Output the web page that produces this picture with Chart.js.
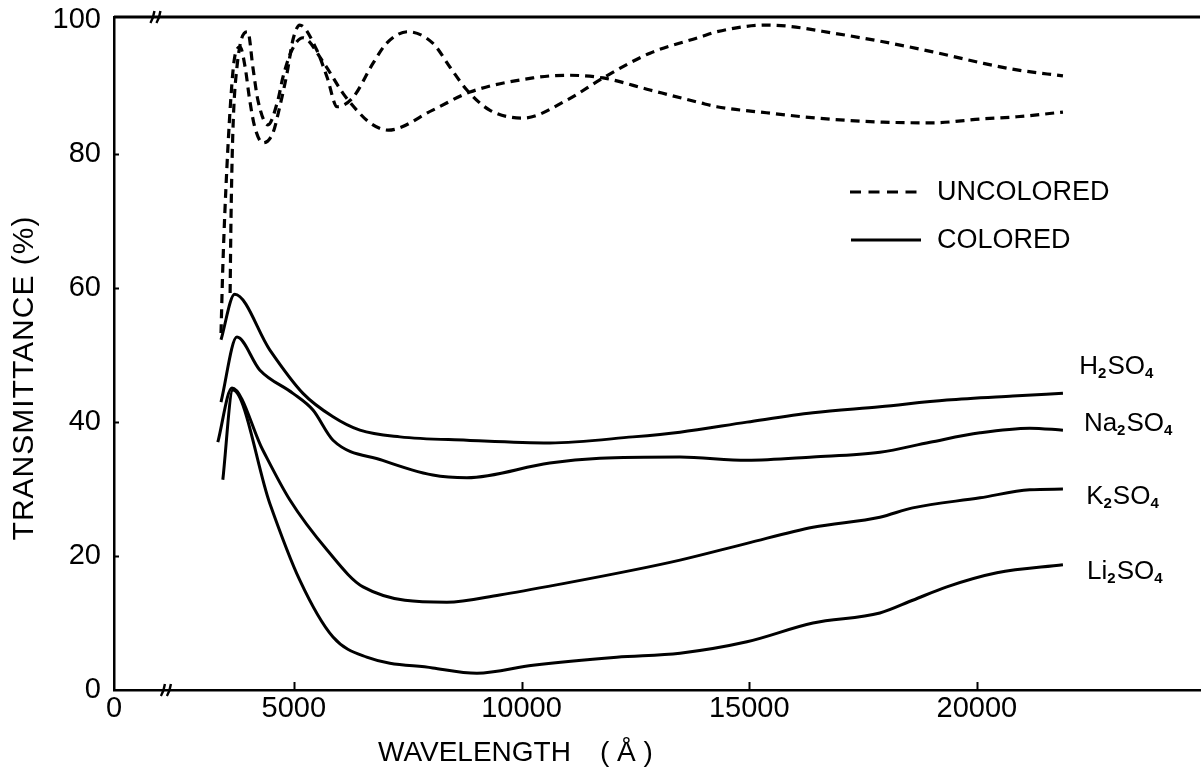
<!DOCTYPE html>
<html>
<head>
<meta charset="utf-8">
<script src="https://cdn.jsdelivr.net/npm/chart.js@4.4.1/dist/chart.umd.min.js"></script>
<style>
  html, body { margin: 0; padding: 0; background: #fff; }
  canvas { display: block; }
</style>
</head>
<body>
<canvas id="chart" width="1202" height="767"></canvas>
<script>
// ---- data ----
// axis: "0" is drawn right after the axis break, at this wavelength position
const X_ZERO_POS = 1050;
const X_MAX = 24900;
const xTickValues = [X_ZERO_POS, 5000, 10000, 15000, 20000];
const xTickLabels = ['0', '5000', '10000', '15000', '20000'];
const yTickValues = [0, 20, 40, 60, 80, 100];

// uncolored film, two samples (dashed)
const uncolAWl = [3400, 3440, 3530, 3640, 3700, 3820, 3930, 4030, 4140, 4320, 4540, 4690, 4850, 4980, 5130, 5500, 5730, 5950, 6300, 6740, 7040, 7500, 8050, 8430, 8800, 9300, 10030, 11000, 11790, 12820, 13920, 14290, 15380, 15890, 16840, 17940, 19030, 20130, 20880, 21890];
const uncolAT  = [53.3, 63.2, 78.1, 90.6, 94.5, 96.0, 93.0, 88.1, 84.1, 81.7, 83.2, 87.1, 92.1, 97.1, 99.3, 95.6, 91.5, 87.1, 88.5, 93.6, 96.6, 98.3, 96.6, 93.0, 89.6, 86.6, 85.4, 88.1, 91.4, 95.1, 97.5, 98.3, 99.3, 99.1, 98.1, 96.8, 95.3, 93.6, 92.6, 91.7];
const uncolBWl = [3600, 3620, 3660, 3750, 3990, 4100, 4210, 4430, 4650, 4760, 4960, 5200, 5640, 6080, 6380, 6670, 7070, 8050, 8870, 10250, 11000, 11790, 12820, 13920, 14290, 15380, 16490, 17940, 19030, 20130, 20880, 21890];
const uncolBT  = [59.3, 70.6, 83.2, 93.0, 98.3, 93.0, 88.1, 84.4, 88.1, 91.5, 95.6, 97.4, 93.8, 89.1, 86.6, 84.7, 83.6, 86.6, 89.3, 91.4, 91.8, 91.4, 89.6, 87.7, 87.1, 86.2, 85.4, 84.8, 84.7, 85.3, 85.6, 86.3];

// colored films (solid)
const h2so4Wl = [3400, 3700, 4470, 5200, 5860, 6450, 7330, 8800, 10620, 12445, 13480, 14950, 16400, 17870, 19340, 20790, 21890];
const h2so4T  = [52.3, 59.1, 50.8, 44.3, 40.8, 38.8, 37.8, 37.3, 36.9, 37.8, 38.5, 40.0, 41.4, 42.3, 43.3, 43.9, 44.3];
const na2so4Wl = [3400, 3750, 4250, 4980, 5420, 5860, 6950, 8050, 8800, 10620, 11720, 13480, 14950, 16400, 17870, 18970, 20070, 21160, 21890];
const na2so4T  = [43.0, 52.7, 47.8, 44.3, 41.8, 37.3, 34.3, 32.1, 31.7, 33.9, 34.6, 34.8, 34.3, 34.8, 35.5, 37.0, 38.4, 39.1, 38.8];
const k2so4Wl = [3330, 3640, 4320, 4910, 5730, 6520, 8360, 9520, 11000, 12445, 13480, 14950, 16400, 17870, 18590, 20070, 21160, 21890];
const k2so4T  = [37.0, 45.1, 35.8, 28.4, 20.9, 15.4, 13.1, 14.2, 16.0, 17.9, 19.4, 21.9, 24.3, 25.8, 27.2, 28.7, 29.9, 30.0];
const li2so4Wl = [3440, 3660, 4470, 5130, 5860, 6600, 8050, 9020, 10250, 12090, 13480, 14950, 16400, 17870, 18590, 19340, 20440, 21890];
const li2so4T  = [31.4, 44.8, 27.9, 16.4, 7.9, 4.9, 3.3, 2.5, 3.7, 4.9, 5.5, 7.2, 10.0, 11.5, 13.4, 15.4, 17.5, 18.7];

const seriesNames = ['H2SO4', 'Na2SO4', 'K2SO4', 'Li2SO4'];
const legendNames = ['UNCOLORED', 'COLORED'];

// ---- helpers ----
const FONT = '"Liberation Sans", Arial, sans-serif';
const pts = (xs, ys) => xs.map((x, i) => ({ x, y: ys[i] }));

function lineSet(xs, ys, dashed) {
    return {
        data: pts(xs, ys),
        borderColor: '#000',
        borderWidth: dashed ? 3.2 : 3,
        borderDash: dashed ? [9, 6] : [],
        cubicInterpolationMode: 'monotone',
        pointRadius: 0,
        fill: false
    };
}

// draws a formula, digits as subscripts
function drawFormula(ctx, text, x, y) {
    let cx = x;
    for (const ch of text) {
        const sub = /[0-9]/.test(ch);
        ctx.font = sub ? 'bold 15px ' + FONT : '26px ' + FONT;
        ctx.fillText(ch, cx, sub ? y + 7 : y);
        cx += ctx.measureText(ch).width + (sub ? 1 : 0);
    }
}

// label anchors (wavelength, transmittance) for the right hand names
const nameAnchors = [[22250, 48.2], [22350, 39.7], [22400, 28.8], [22420, 17.6]];

const decor = {
    id: 'decor',
    afterDraw(chart) {
        const { ctx, chartArea: a, scales: { x, y } } = chart;
        ctx.save();
        ctx.strokeStyle = '#000';
        ctx.fillStyle = '#000';
        ctx.lineCap = 'butt';

        // top frame line
        ctx.lineWidth = 3;
        ctx.beginPath();
        ctx.moveTo(a.left, a.top);
        ctx.lineTo(a.right, a.top);
        ctx.stroke();

        // inside tick marks
        ctx.lineWidth = 2;
        yTickValues.slice(1, -1).forEach(v => {
            const py = Math.round(y.getPixelForValue(v)) + 0.5;
            ctx.beginPath(); ctx.moveTo(a.left, py); ctx.lineTo(a.left + 5, py); ctx.stroke();
        });
        xTickValues.slice(1).forEach(v => {
            const px = Math.round(x.getPixelForValue(v)) + 0.5;
            ctx.beginPath(); ctx.moveTo(px, a.bottom); ctx.lineTo(px, a.bottom - 8); ctx.stroke();
        });

        // axis break marks
        ctx.lineWidth = 2.4;
        [[x.getPixelForValue(1960), a.top], [x.getPixelForValue(2190), a.bottom]].forEach(([bx, by]) => {
            [-3, 3].forEach(dx => {
                ctx.beginPath();
                ctx.moveTo(bx - 2 + dx, by + 6);
                ctx.quadraticCurveTo(bx + 1 + dx, by + 1, bx + 2 + dx, by - 6);
                ctx.stroke();
            });
        });

        // axis titles
        ctx.textBaseline = 'middle';
        ctx.textAlign = 'center';
        ctx.font = '30px ' + FONT;
        ctx.letterSpacing = '1px';
        ctx.save();
        ctx.translate(25, 378);
        ctx.rotate(-Math.PI / 2);
        ctx.fillText('TRANSMITTANCE (%)', 0, 0);
        ctx.restore();
        ctx.letterSpacing = '0px';
        ctx.font = '28px ' + FONT;
        ctx.textAlign = 'left';
        ctx.fillText('WAVELENGTH', 378, 753);
        ctx.fillText('( Å )', 600, 753);

        // legend
        ctx.font = '27px ' + FONT;
        ctx.lineWidth = 3;
        ctx.setLineDash([11, 7.5]);
        ctx.beginPath(); ctx.moveTo(850, 192); ctx.lineTo(917, 192); ctx.stroke();
        ctx.setLineDash([]);
        ctx.beginPath(); ctx.moveTo(851, 240); ctx.lineTo(921, 240); ctx.stroke();
        ctx.fillText(legendNames[0], 937, 193);
        ctx.fillText(legendNames[1], 937, 241);

        // series names
        seriesNames.forEach((n, i) => {
            const [wl, t] = nameAnchors[i];
            drawFormula(ctx, n, x.getPixelForValue(wl), y.getPixelForValue(t));
        });
        ctx.restore();
    }
};

new Chart(document.getElementById('chart'), {
    type: 'line',
    data: {
        datasets: [
            lineSet(uncolAWl, uncolAT, true),
            lineSet(uncolBWl, uncolBT, true),
            lineSet(h2so4Wl, h2so4T, false),
            lineSet(na2so4Wl, na2so4T, false),
            lineSet(k2so4Wl, k2so4T, false),
            lineSet(li2so4Wl, li2so4T, false)
        ]
    },
    options: {
        responsive: false,
        animation: false,
        devicePixelRatio: 1,
        layout: { padding: { top: 17, right: 2, left: 0, bottom: 0 } },
        plugins: { legend: { display: false }, tooltip: { enabled: false } },
        scales: {
            x: {
                type: 'linear',
                min: X_ZERO_POS,
                max: X_MAX,
                afterBuildTicks: s => { s.ticks = xTickValues.map(v => ({ value: v })); },
                afterFit: s => { s.height = 77; s.paddingLeft = 0; s.paddingRight = 0; },
                grid: { display: false, drawTicks: false },
                border: { color: '#000', width: 2.5 },
                ticks: {
                    color: '#000', padding: 2, maxRotation: 0, autoSkip: false,
                    font: { family: FONT, size: 29 },
                    callback: (v, i) => xTickLabels[i]
                }
            },
            y: {
                min: 0,
                max: 100.5,
                afterBuildTicks: s => { s.ticks = yTickValues.map(v => ({ value: v })); },
                afterFit: s => { s.width = 114; s.paddingTop = 0; s.paddingBottom = 0; },
                grid: { display: false, drawTicks: false },
                border: { color: '#000', width: 2.5 },
                ticks: {
                    color: '#000', padding: 13, autoSkip: false,
                    font: { family: FONT, size: 29 },
                    callback: v => String(v)
                }
            }
        }
    },
    plugins: [decor]
});
</script>
</body>
</html>
